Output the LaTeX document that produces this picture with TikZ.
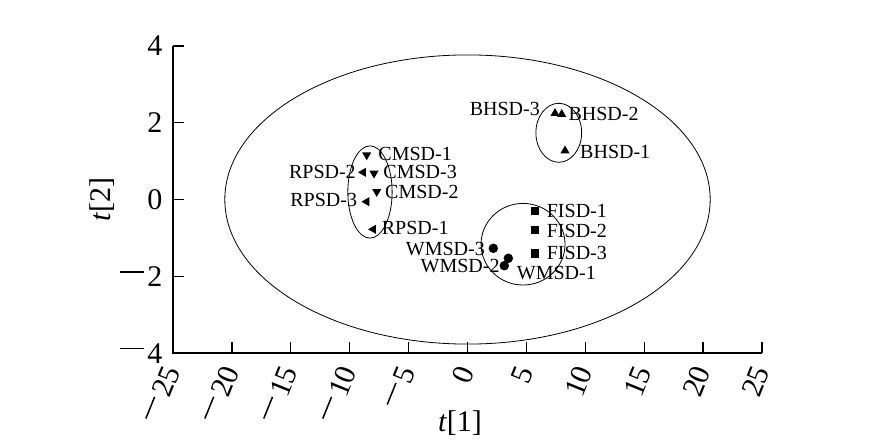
\documentclass[tikz,border=0pt]{standalone}
\usepackage{fontspec}
\setmainfont{Liberation Serif}
\usetikzlibrary{shapes.geometric}
\newcommand{\mns}{\rule[0.46em]{0.78em}{0.05em}\hspace{0.12em}}
\begin{document}
\begin{tikzpicture}[x=11.792pt,y=38.45pt,
  axisln/.style={line width=1.7pt, line join=miter},
  ring/.style={line width=0.8pt},
  ticklbl/.style={font=\fontsize{30}{32}\selectfont, inner sep=0pt},
  axtitle/.style={font=\fontsize{30}{32}\selectfont, inner sep=0pt},
  ptlbl/.style={font=\fontsize{20}{22}\selectfont, inner sep=0pt},
  mk/.style={fill=black, draw=none, inner sep=0pt},
  tridn/.style={mk, regular polygon, regular polygon sides=3, shape border rotate=180, minimum size=10.5pt},
  triup/.style={mk, regular polygon, regular polygon sides=3, minimum size=10.5pt},
  trilf/.style={mk, regular polygon, regular polygon sides=3, shape border rotate=90, minimum size=10.5pt},
  sqmk/.style={mk, rectangle, minimum size=8.8pt},
  dotmk/.style={mk, circle, minimum size=9.5pt}]
\useasboundingbox (-467.5pt,-247.5pt) rectangle (407.5pt,199.5pt);

% axes
\draw[axisln] (-25,4) -- (-25,-4) -- (25,-4);
\foreach \x in {-20,-15,...,25} \draw[axisln] (\x,-4) -- ++(0pt,11.5pt);
\foreach \y in {-2,0,2,4} \draw[axisln] (-25,\y) -- ++(11pt,0pt);

% y tick labels
\node[ticklbl, anchor=east, xshift=-10pt] (y4) at (-25,4) {4};
\node[ticklbl, anchor=east, xshift=-10pt] (y2) at (-25,2) {2};
\node[ticklbl, anchor=east, xshift=-10pt] (y0) at (-25,0) {0};
\node[ticklbl, anchor=east, xshift=-10pt] (ym2) at (-25,-2) {\mns 2};
\node[ticklbl, anchor=east, xshift=-10pt] (ym4) at (-25,-4) {\mns 4};

% x tick labels
\foreach \x/\t [count=\i] in {-25/\mns 25,-20/\mns 20,-15/\mns 15,-10/\mns 10,-5/\mns 5,0/0,5/5,10/10,15/15,20/20,25/25}
  \node[ticklbl, rotate=68, anchor=east] (xl\i) at ([xshift=-1pt,yshift=-14pt]\x,-4) {\t};

% axis titles
\node[axtitle, rotate=90] (ty) at ([xshift=-71pt]-25,0) {\textit{t}[2]};
\node[axtitle] (tx) at ([xshift=-7.5pt,yshift=-70pt]0,-4) {\textit{t}[1]};

% ellipses
\draw[ring] (0,0) ellipse [x radius=20.58, y radius=3.76];
\draw[ring] (-8.27,0.195) ellipse [x radius=1.88, y radius=1.20];
\draw[ring] (7.74,1.735) ellipse [x radius=1.94, y radius=0.767];
\draw[ring] (4.71,-1.163) ellipse [x radius=3.56, y radius=1.061];

% markers
\node[tridn] (c1) at (-8.55,1.157) {};
\node[tridn] (c3) at (-7.93,0.681) {};
\node[tridn] (c2) at (-7.70,0.203) {};
\node[trilf] (r2) at (-8.84,0.707) {};
\node[trilf] (r3) at (-8.55,-0.057) {};
\node[trilf] (r1) at (-7.99,-0.775) {};
\node[sqmk] (f1) at (5.72,-0.299) {};
\node[sqmk] (f2) at (5.72,-0.793) {};
\node[sqmk] (f3) at (5.72,-1.399) {};
\node[dotmk] (w3) at (2.19,-1.269) {};
\node[dotmk] (w1) at (3.46,-1.529) {};
\node[dotmk] (w2) at (3.12,-1.722) {};
\node[triup] (b3) at (7.42,2.24) {};
\node[triup] (b2) at (7.99,2.216) {};
\node[triup] (b1) at (8.27,1.269) {};

% point labels
\node[ptlbl, anchor=west] (lc1) at ([xshift=11.6pt,yshift=1pt]c1.center) {CMSD-1};
\node[ptlbl, anchor=west] (lc3) at ([xshift=9.3pt,yshift=1pt]c3.center) {CMSD-3};
\node[ptlbl, anchor=west] (lc2) at ([xshift=8.3pt]c2.center) {CMSD-2};
\node[ptlbl, anchor=east] (lr2) at ([xshift=-7.3pt]r2.center) {RPSD-2};
\node[ptlbl, anchor=east] (lr3) at ([xshift=-9.4pt,yshift=1.7pt]r3.center) {RPSD-3};
\node[ptlbl, anchor=west] (lr1) at ([xshift=8.4pt,yshift=1pt]r1.center) {RPSD-1};
\node[ptlbl, anchor=west] (lf1) at ([xshift=11.7pt]f1.center) {FISD-1};
\node[ptlbl, anchor=west] (lf2) at ([xshift=11.7pt,yshift=-1pt]f2.center) {FISD-2};
\node[ptlbl, anchor=west] (lf3) at ([xshift=11.7pt]f3.center) {FISD-3};
\node[ptlbl, anchor=east] (lw3) at ([xshift=-8.3pt,yshift=-1pt]w3.center) {WMSD-3};
\node[ptlbl, anchor=east] (lw2) at ([xshift=-4.5pt]w2.center) {WMSD-2};
\node[ptlbl, anchor=west] (lw1) at ([xshift=8.4pt,yshift=-15pt]w1.center) {WMSD-1};
\node[ptlbl, anchor=east] (lb3) at ([xshift=-15pt,yshift=4pt]b3.center) {BHSD-3};
\node[ptlbl, anchor=west] (lb2) at ([xshift=6.6pt]b2.center) {BHSD-2};
\node[ptlbl, anchor=west] (lb1) at ([xshift=15pt,yshift=-1pt]b1.center) {BHSD-1};
\end{tikzpicture}
\end{document}
